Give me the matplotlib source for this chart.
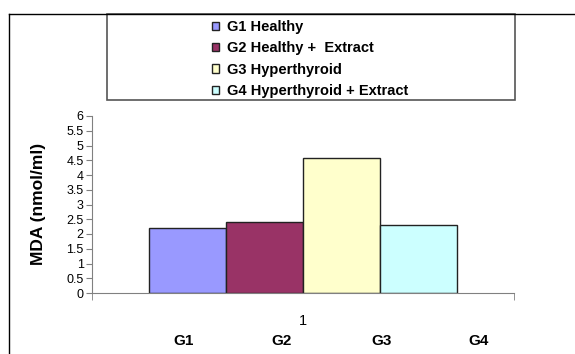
import matplotlib.pyplot as plt
from matplotlib.lines import Line2D
from matplotlib.patches import Rectangle

plt.rcParams['font.family'] = ['Liberation Sans', 'DejaVu Sans']

# data
groups = ['G1 Healthy', 'G2 Healthy +  Extract', 'G3 Hyperthyroid', 'G4 Hyperthyroid + Extract']
mda = [2.2, 2.4, 4.58, 2.3]
colors = ['#9999FF', '#993366', '#FFFFCC', '#CCFFFF']
short_labels = ['G1', 'G2', 'G3', 'G4']
yticks = [0, 0.5, 1, 1.5, 2, 2.5, 3, 3.5, 4, 4.5, 5, 5.5, 6]

W, H = 575, 354
fig = plt.figure(figsize=(W / 100, H / 100), dpi=100)
ax = fig.add_axes([92 / W, 1 - 293 / H, (514 - 92) / W, (293 - 116) / H])

bw = 0.1825
for i, (v, c, g) in enumerate(zip(mda, colors, groups)):
    ax.bar(1 + (i - 1.5) * bw, v, width=bw, color=c, edgecolor='#222222',
           linewidth=1, label=g)

ax.set_xlim(0.5, 1.5)
ax.set_ylim(0, 6)
ax.set_yticks(yticks)
ax.set_yticklabels([f'{t:g}' for t in yticks], fontsize=9)
ax.set_xticks([1])
ax.set_xticklabels(['1'], fontsize=10.5)
ax.set_xticks([0.5, 1.5], minor=True)
ax.tick_params(axis='x', which='major', length=0, pad=15)
ax.tick_params(axis='x', which='minor', length=5, color='#808080')
ax.tick_params(axis='y', length=4, color='#808080', pad=2)
for s in ['top', 'right']:
    ax.spines[s].set_visible(False)
for s in ['left', 'bottom']:
    ax.spines[s].set_color('#808080')

# group labels under the axis
for lab, xp in zip(short_labels, [0.718, 0.950, 1.185, 1.415]):
    ax.text(xp, -0.27, lab, transform=ax.get_xaxis_transform(), ha='center',
            va='center', fontsize=11, fontweight='bold')

fig.text(39 / W, 1 - 204 / H, 'MDA (nmol/ml)', rotation=90, ha='center',
         va='center', fontsize=12.5, fontweight='bold')

# legend
leg = fig.legend(loc='upper left', bbox_to_anchor=(212 / W, 1 - 20 / H),
                 frameon=False, borderpad=0, borderaxespad=0,
                 handlelength=0.5, handleheight=0.5, handletextpad=0.5,
                 labelspacing=0.5, prop={'weight': 'bold', 'size': 10.5})
fig.add_artist(Rectangle((107 / W, 1 - 100 / H), (515 - 107) / W, (100 - 14) / H,
                         transform=fig.transFigure, fill=False,
                         edgecolor='#555555', linewidth=1.2))

# outer frame
fig.add_artist(Line2D([9 / W, 1], [1 - 14 / H, 1 - 14 / H], color='black', lw=1))
fig.add_artist(Line2D([9 / W, 9 / W], [0, 1 - 14 / H], color='black', lw=1))

fig.savefig('out.png', dpi=100)
